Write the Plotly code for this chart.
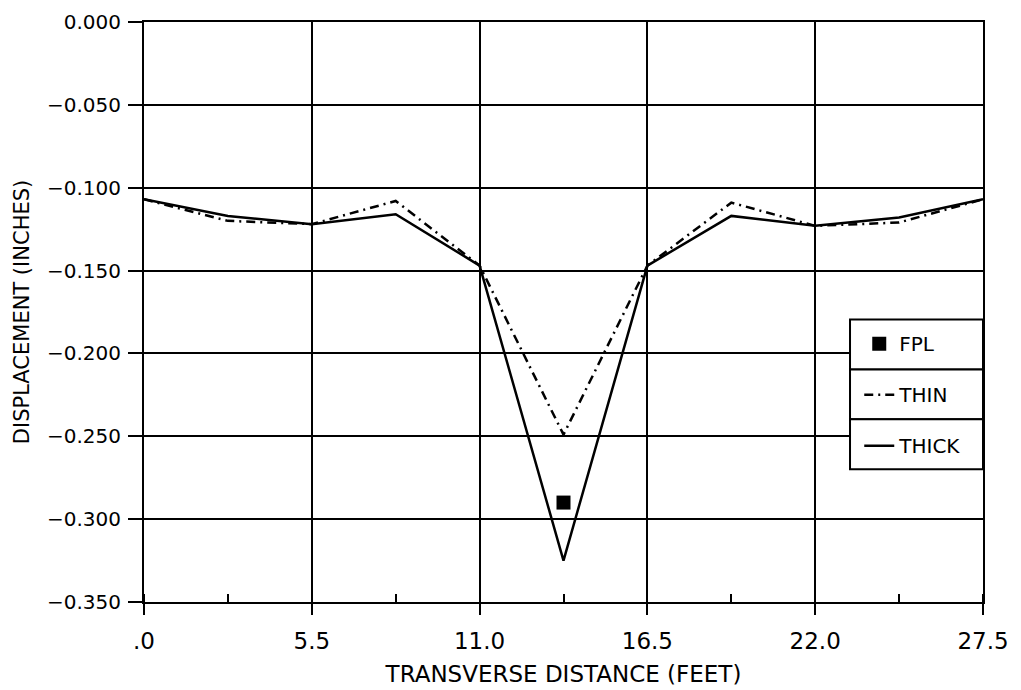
import plotly.graph_objects as go

# ---- data ----
x_ft = [0.0, 2.75, 5.5, 8.25, 11.0, 13.75, 16.5, 19.25, 22.0, 24.75, 27.5]
thick = [-0.107, -0.117, -0.122, -0.116, -0.147, -0.325, -0.147, -0.117, -0.123, -0.118, -0.107]
thin = [-0.107, -0.120, -0.122, -0.108, -0.147, -0.249, -0.147, -0.109, -0.123, -0.121, -0.107]
fpl_x = [13.75]
fpl_y = [-0.290]

x_tickvals = [0.0, 5.5, 11.0, 16.5, 22.0, 27.5]
x_ticktext = [".0", "5.5", "11.0", "16.5", "22.0", "27.5"]
y_tickvals = [0.0, -0.05, -0.10, -0.15, -0.20, -0.25, -0.30, -0.35]

FONT = "DejaVu Sans"

fig = go.Figure()
fig.add_trace(go.Scatter(
    x=fpl_x, y=fpl_y, mode="markers", name="FPL", legendgroup="a",
    marker=dict(symbol="square", size=14, color="black"),
))
fig.add_trace(go.Scatter(
    x=x_ft, y=thin, mode="lines", name="THIN", legendgroup="b",
    line=dict(color="black", width=2.5, dash="9px,5px,2px,5px"),
))
fig.add_trace(go.Scatter(
    x=x_ft, y=thick, mode="lines", name="THICK", legendgroup="c",
    line=dict(color="black", width=2.5),
))

# legend boxes (white filled, black outlined) drawn as paper shapes
L, R = 0.8415, 1.0
box_edges = [0.487, 0.401, 0.315, 0.229]
for i in range(3):
    fig.add_shape(type="rect", xref="paper", yref="paper",
                  x0=L, x1=R, y0=box_edges[i + 1], y1=box_edges[i],
                  fillcolor="white", line=dict(color="black", width=2),
                  layer="above")

fig.update_layout(
    width=1021, height=690,
    margin=dict(l=144, r=38, t=22, b=88),
    paper_bgcolor="white", plot_bgcolor="white",
    font=dict(family=FONT, size=20, color="black"),
    showlegend=True,
    legend=dict(x=L + 0.011, y=0.479, xanchor="left", yanchor="top",
                bgcolor="rgba(0,0,0,0)", borderwidth=0,
                font=dict(family=FONT, size=20, color="black"),
                tracegroupgap=22, itemwidth=30),
    xaxis=dict(
        range=[0, 27.5], tickvals=x_tickvals, ticktext=x_ticktext,
        tickfont=dict(size=23), ticklabelstandoff=6, automargin=False,
        showgrid=True, gridcolor="black", gridwidth=2,
        showline=True, linecolor="black", linewidth=2, mirror=True,
        ticks="outside", ticklen=11, tickwidth=2, tickcolor="black",
        minor=dict(ticks="inside", ticklen=8, tickwidth=2, tickcolor="black",
                   dtick=2.75, tick0=0, showgrid=False),
        zeroline=False,
        title=dict(text="TRANSVERSE DISTANCE (FEET)", font=dict(size=23), standoff=13),
    ),
    yaxis=dict(
        range=[-0.35, 0.0], tickvals=y_tickvals, tickformat=".3f",
        tickfont=dict(size=20), ticklabelstandoff=3, automargin=False,
        showgrid=True, gridcolor="black", gridwidth=2,
        showline=True, linecolor="black", linewidth=2, mirror=True,
        ticks="outside", ticklen=14, tickwidth=2, tickcolor="black",
        zeroline=False,
        title=dict(text="DISPLACEMENT (INCHES)", font=dict(size=21), standoff=12),
    ),
)

fig.write_html("out.html")
